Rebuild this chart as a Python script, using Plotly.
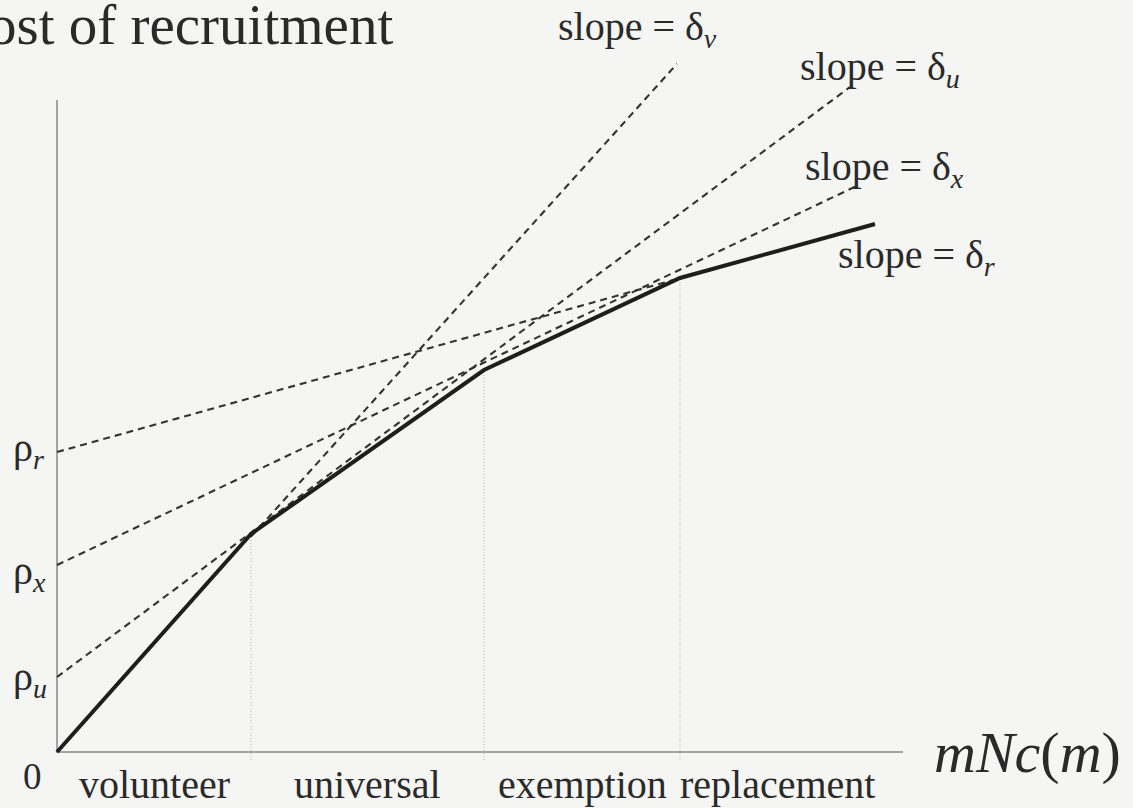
import plotly.graph_objects as go

W, H = 1133, 808

# ---- data (diagram units: origin at the axes corner) ----
regimes = ["volunteer", "universal", "exemption", "replacement"]
kink_x = [0, 194, 427, 623, 818]          # boundaries of regimes along mNc(m)
cost_y = [0, 218, 382, 474, 528]          # cost of recruitment (solid envelope)

line_names = ["v", "u", "x", "r"]
intercepts = [0, 75, 187, 300]            # rho_v = 0, rho_u, rho_x, rho_r
slopes = [1.11, 0.744, 0.474, 0.279]      # delta_v, delta_u, delta_x, delta_r
line_x_start = [194, 0, 0, 0]
line_x_end = [620, 793, 798, 623]

x_axis_len = 846
y_axis_len = 652

# ---- helpers for pixel placement of labels ----
def px(x):
    return x / W

def py(y):
    return 1 - y / H

fig = go.Figure()

# axes lines
fig.add_trace(go.Scatter(x=[0, 0, x_axis_len], y=[y_axis_len, 0, 0], mode="lines",
                         line=dict(color="#a3a3a3", width=2), hoverinfo="skip"))

# vertical dotted regime boundaries
for xk, yk in zip(kink_x[1:4], cost_y[1:4]):
    fig.add_trace(go.Scatter(x=[xk, xk], y=[-8, yk], mode="lines",
                             line=dict(color="#b5b5b5", width=1, dash="1px,2px"),
                             hoverinfo="skip"))

# dashed cost lines
for a, b, x0, x1 in zip(intercepts, slopes, line_x_start, line_x_end):
    fig.add_trace(go.Scatter(x=[x0, x1], y=[a + b * x0, a + b * x1], mode="lines",
                             line=dict(color="#333333", width=2.1, dash="7px,5px"),
                             hoverinfo="skip"))

# solid cost envelope
fig.add_trace(go.Scatter(x=kink_x, y=cost_y, mode="lines",
                         line=dict(color="#1e1e1e", width=4), hoverinfo="skip"))

serif = "Liberation Serif, Times New Roman, serif"
ann = []

def add(text, x, y, size, xanchor="left"):
    ann.append(dict(text=text, x=px(x), y=py(y), xref="paper", yref="paper",
                    xanchor=xanchor, yanchor="middle", showarrow=False,
                    font=dict(family=serif, size=size, color="#2a2a2a")))

add("Cost of recruitment", -52, 24, 57)

slope_label_pos = [(556, 29), (798, 69), (803, 169), (836, 257)]
for nm, (lx, ly) in zip(line_names, slope_label_pos):
    add("slope = δ<sub><i>%s</i></sub>" % nm, lx, ly, 40)

rho_pos = {"r": 450, "x": 573, "u": 679}
for nm, yy in rho_pos.items():
    add("ρ<sub><i>%s</i></sub>" % nm, 11, yy, 40)

add("0", 32, 776, 37, xanchor="center")

for i, name in enumerate(regimes):
    cx = (kink_x[i] + kink_x[i + 1]) / 2 + 57
    add(name, cx, 784, 40, xanchor="center")

add("<i>mNc</i>(<i>m</i>)", 932, 752, 58)

fig.update_layout(
    width=W, height=H,
    margin=dict(l=0, r=0, t=0, b=0),
    paper_bgcolor="#f5f5f3", plot_bgcolor="#f5f5f3",
    showlegend=False,
    xaxis=dict(range=[-57, W - 57], visible=False, fixedrange=True),
    yaxis=dict(range=[-(H - 752), 752], visible=False, fixedrange=True),
    annotations=ann,
)

fig.write_html(
    "out.html",
    config={"displayModeBar": False, "staticPlot": True},
    post_script="document.body.style.margin='0';document.body.style.overflow='hidden';",
)
